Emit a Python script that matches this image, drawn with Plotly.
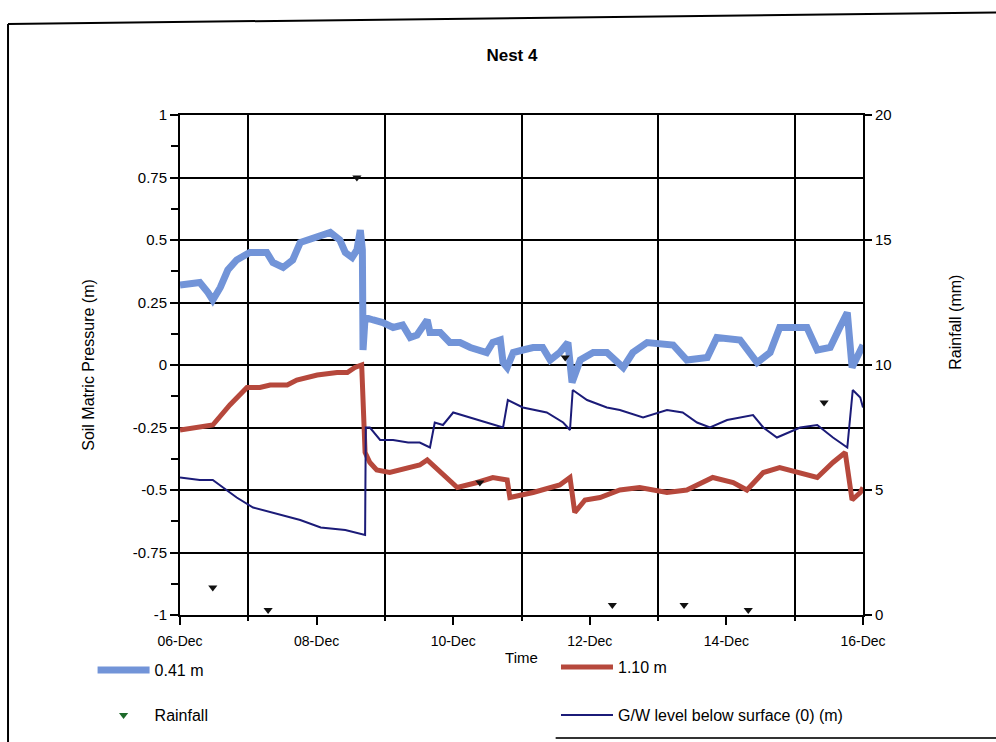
import numpy as np
import pandas as pd
import plotly.graph_objects as go

# Readings: time as fractional day of December, values in metres / mm
t_041 = [6.00, 6.29, 6.41, 6.48, 6.59, 6.70, 6.83, 7.02, 7.27, 7.36, 7.51, 7.65, 7.76, 7.95,
         8.20, 8.34, 8.42, 8.52, 8.59, 8.64, 8.67, 8.68, 8.71, 8.83, 8.97, 9.12, 9.26, 9.37,
         9.47, 9.62, 9.66, 9.81, 9.95, 10.10, 10.25, 10.49, 10.58, 10.69, 10.73, 10.79, 10.88,
         11.02, 11.17, 11.31, 11.42, 11.56, 11.68, 11.74, 11.86, 12.05, 12.25, 12.49, 12.63,
         12.84, 13.22, 13.42, 13.72, 13.86, 14.20, 14.45, 14.64, 14.78, 15.18, 15.33, 15.52,
         15.66, 15.77, 15.84, 15.96, 16.00]
p_041 = [0.32, 0.33, 0.29, 0.26, 0.31, 0.38, 0.42, 0.45, 0.45, 0.41, 0.39, 0.42, 0.49, 0.51,
         0.53, 0.50, 0.45, 0.43, 0.46, 0.54, 0.46, 0.06, 0.19, 0.18, 0.17, 0.15, 0.16, 0.11,
         0.12, 0.18, 0.13, 0.13, 0.09, 0.09, 0.07, 0.05, 0.09, 0.10, 0.01, -0.01, 0.05,
         0.06, 0.07, 0.07, 0.02, 0.05, 0.09, -0.07, 0.02, 0.05, 0.05, -0.01, 0.05,
         0.09, 0.08, 0.02, 0.03, 0.11, 0.10, 0.01, 0.05, 0.15, 0.15, 0.06, 0.07,
         0.15, 0.21, -0.01, 0.05, 0.08]

t_110 = [6.00, 6.29, 6.48, 6.73, 6.98, 7.17, 7.32, 7.57, 7.71, 8.01, 8.30, 8.45, 8.56, 8.66,
         8.71, 8.78, 8.88, 9.07, 9.32, 9.51, 9.62, 9.81, 10.06, 10.35, 10.58, 10.79, 10.83,
         11.17, 11.56, 11.71, 11.78, 11.93, 12.15, 12.44, 12.73, 13.13, 13.42, 13.80, 14.10,
         14.30, 14.54, 14.78, 15.08, 15.33, 15.56, 15.74, 15.84, 15.96, 16.00]
p_110 = [-0.26, -0.25, -0.24, -0.16, -0.09, -0.09, -0.08, -0.08, -0.06, -0.04, -0.03, -0.03,
         -0.01, 0.00, -0.35, -0.39, -0.42, -0.43, -0.41, -0.40, -0.38, -0.43, -0.49, -0.47,
         -0.45, -0.46, -0.53, -0.51, -0.48, -0.45, -0.59, -0.54, -0.53, -0.50, -0.49, -0.51,
         -0.50, -0.45, -0.47, -0.50, -0.43, -0.41, -0.43, -0.45, -0.39, -0.35, -0.54, -0.51,
         -0.49]

t_gw = [6.00, 6.29, 6.48, 6.83, 7.07, 7.46, 7.76, 8.06, 8.42, 8.71, 8.72, 8.78, 8.93, 9.12,
        9.29, 9.34, 9.51, 9.66, 9.73, 9.85, 10.00, 10.25, 10.49, 10.73, 10.80, 11.02, 11.37,
        11.61, 11.71, 11.75, 11.96, 12.25, 12.44, 12.78, 13.13, 13.36, 13.57, 13.76, 14.01,
        14.39, 14.54, 14.74, 15.08, 15.33, 15.56, 15.77, 15.85, 15.96, 16.00]
gw_level = [-0.45, -0.46, -0.46, -0.53, -0.57, -0.60, -0.62, -0.65, -0.66, -0.68, -0.25,
            -0.25, -0.30, -0.30, -0.31, -0.31, -0.31, -0.33, -0.23, -0.24, -0.19, -0.21,
            -0.23, -0.25, -0.14, -0.17, -0.19, -0.23, -0.26, -0.10, -0.14, -0.17, -0.18,
            -0.21, -0.18, -0.19, -0.23, -0.25, -0.22, -0.20, -0.25, -0.29, -0.25, -0.24,
            -0.29, -0.33, -0.10, -0.13, -0.17]

t_rain = [6.48, 7.29, 8.59, 10.39, 11.64, 12.33, 13.38, 14.32, 15.43]
rain_mm = [1.1, 0.2, 17.5, 5.3, 10.3, 0.4, 0.4, 0.2, 8.5]

# Axis ticks
x_label_days = [6, 8, 10, 12, 14, 16]
x_grid_days = [7, 9, 11, 13, 15]
y_ticks = [-1, -0.75, -0.5, -0.25, 0, 0.25, 0.5, 0.75, 1]
y_tick_text = ["-1", "-0.75", "-0.5", "-0.25", "0", "0.25", "0.5", "0.75", "1"]
rain_ticks = [0, 5, 10, 15, 20]


def to_time(days):
    return pd.Timestamp("2004-12-01") + pd.to_timedelta(np.asarray(days, dtype=float) - 1, unit="D")


FONT = "Liberation Sans, Arial, sans-serif"
BLUE = "#7294d8"
RED = "#b6483c"
NAVY = "#1b1b78"

fig = go.Figure()

fig.add_trace(go.Scatter(x=to_time(t_041), y=p_041, mode="lines", name="0.41 m",
                         line=dict(color=BLUE, width=7), legend="legend"))
fig.add_trace(go.Scatter(x=to_time(t_110), y=p_110, mode="lines", name="1.10 m",
                         line=dict(color=RED, width=5), legend="legend2"))
fig.add_trace(go.Scatter(x=to_time(t_gw), y=gw_level, mode="lines",
                         name="G/W level below surface (0) (m)",
                         line=dict(color=NAVY, width=2), legend="legend4"))
# Rainfall markers on the secondary axis
fig.add_trace(go.Scatter(x=to_time(t_rain), y=rain_mm, mode="markers", name="Rainfall",
                         marker=dict(symbol="triangle-down", size=8, color="#111111"),
                         yaxis="y2", showlegend=False))
# Legend entry for rainfall
fig.add_trace(go.Scatter(x=[None], y=[None], mode="markers", name="Rainfall",
                         marker=dict(symbol="triangle-down", size=8, color="#1d6a2a"),
                         yaxis="y2", legend="legend3"))

xtick_font = dict(family=FONT, size=14, color="black")
ytick_font = dict(family=FONT, size=15, color="black")
title_font = dict(family=FONT, size=16, color="black")
legend_font = dict(family=FONT, size=16, color="black")


def legend_box(x, y):
    return dict(orientation="v", x=x, xanchor="left", y=y, yanchor="middle", itemwidth=52,
                font=legend_font, bgcolor="rgba(0,0,0,0)", borderwidth=0)


fig.update_layout(
    width=996, height=742,
    margin=dict(l=180, r=133, t=115, b=127, autoexpand=False),
    paper_bgcolor="white", plot_bgcolor="white",
    font=xtick_font,
    title=dict(text="<b>Nest 4</b>", x=0.514, xanchor="center", y=0.926, yanchor="middle",
               font=dict(family=FONT, size=17, color="black")),
    xaxis=dict(
        type="date", automargin=False,
        range=[to_time([6])[0], to_time([16])[0]],
        tickmode="array", tickvals=list(to_time(x_label_days)), tickformat="%d-%b",
        ticks="outside", ticklen=8, tickwidth=2, tickcolor="black", ticklabelstandoff=4,
        showgrid=False, showline=True, linecolor="black", linewidth=2, mirror=True,
        zeroline=False,
        minor=dict(tickmode="array", tickvals=list(to_time(x_grid_days)), showgrid=True,
                   gridcolor="black", gridwidth=2, ticks="outside", ticklen=4,
                   tickcolor="black"),
        title=dict(text="Time", standoff=5, font=dict(family=FONT, size=15, color="black")),
        tickfont=xtick_font,
    ),
    yaxis=dict(
        automargin=False,
        range=[-1, 1], tickmode="array", tickvals=y_ticks, ticktext=y_tick_text,
        ticks="outside", ticklen=8, tickwidth=2, tickcolor="black",
        showgrid=True, gridcolor="black", gridwidth=2,
        showline=True, linecolor="black", linewidth=2, mirror=True, zeroline=False,
        minor=dict(tick0=-1, dtick=0.125, ticks="outside", ticklen=7, tickcolor="black",
                   tickwidth=2, showgrid=False),
        tickfont=ytick_font,
    ),
    yaxis2=dict(
        automargin=False,
        range=[0, 20], overlaying="y", side="right", tickmode="array", tickvals=rain_ticks,
        ticks="outside", ticklen=8, tickwidth=2, tickcolor="black", showgrid=False,
        zeroline=False, showline=False, tickfont=ytick_font,
    ),
    legend=legend_box(-0.128, -0.11),
    legend2=legend_box(0.5505, -0.104),
    legend3=legend_box(-0.128, -0.2),
    legend4=legend_box(0.5505, -0.2),
    showlegend=True,
    annotations=[
        dict(text="Soil Matric Pressure (m)", xref="paper", yref="paper", x=-0.135, y=0.5,
             textangle=-90, showarrow=False, xanchor="center", yanchor="middle",
             font=title_font),
        dict(text="Rainfall (mm)", xref="paper", yref="paper", x=1.135, y=0.585,
             textangle=-90, showarrow=False, xanchor="center", yanchor="middle",
             font=title_font),
    ],
    shapes=[
        # outer frame of the chart
        dict(type="line", xref="paper", yref="paper", x0=-0.2518, y0=1.182, x1=1.2, y1=1.205,
             line=dict(color="black", width=2)),
        dict(type="line", xref="paper", yref="paper", x0=-0.2518, y0=1.182, x1=-0.2518, y1=-0.26,
             line=dict(color="black", width=2)),
        dict(type="line", xref="paper", yref="paper", x0=0.55, y0=-0.246, x1=1.2, y1=-0.246,
             line=dict(color="#333333", width=2)),
    ],
)

fig.write_html("out.html")
